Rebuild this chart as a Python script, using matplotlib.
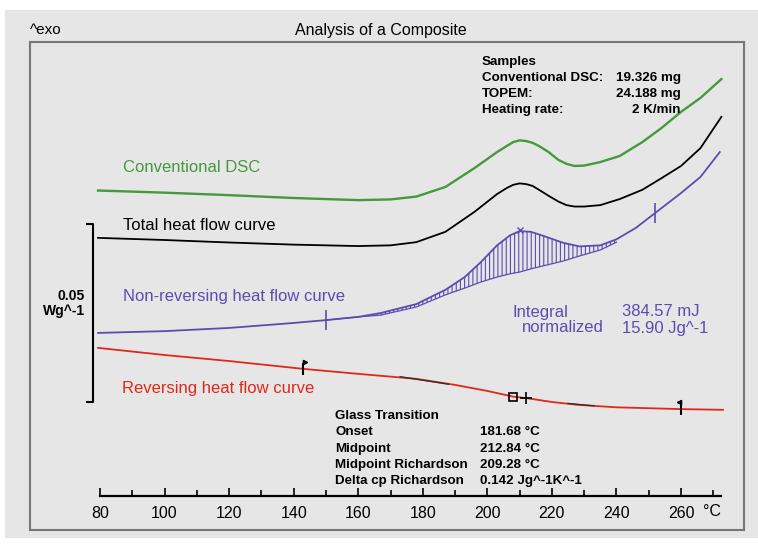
import matplotlib.pyplot as plt
from matplotlib.patches import Rectangle
from matplotlib.ticker import FixedLocator

plt.rcParams['font.family'] = ['Liberation Sans', 'DejaVu Sans']
plt.rcParams['hatch.linewidth'] = 0.8

W, H = 758, 546

# temperature (°C) and heat flow (W/g, curves shifted for display)
t_conv = [79.4, 100, 120, 140, 160, 170, 178, 187, 196, 203, 206, 208, 210, 212,
          214, 216, 219, 222, 224.5, 227, 230, 235, 241, 248, 254, 260, 266, 272.5]
hf_conv = [0.0594, 0.0588, 0.0581, 0.0573, 0.0567, 0.0569, 0.0577, 0.0604, 0.0657,
           0.0702, 0.0719, 0.0730, 0.0735, 0.0733, 0.0728, 0.0719, 0.0702, 0.0680,
           0.0669, 0.0663, 0.0664, 0.0674, 0.0691, 0.0730, 0.0770, 0.0815, 0.0854, 0.0907]

t_total = [79.4, 100, 120, 140, 160, 170, 178, 187, 196, 203, 206, 208, 210, 212,
           214, 216, 219, 222, 224.5, 227, 230, 235, 241, 248, 254, 260, 266, 272.5]
hf_total = [0.0461, 0.0455, 0.0448, 0.0442, 0.0438, 0.0440, 0.0449, 0.0478, 0.0534,
            0.0584, 0.0601, 0.0610, 0.0614, 0.0612, 0.0607, 0.0596, 0.0579, 0.0563,
            0.0553, 0.0549, 0.0549, 0.0553, 0.0570, 0.0596, 0.0629, 0.0663, 0.0713, 0.0801]

t_nonrev = [79.4, 100, 120, 140, 150, 160, 167, 178, 187, 193, 198, 203, 207, 210,
            213.5, 218.5, 223.5, 228.5, 235, 240, 246, 252, 260, 266, 272]
hf_nonrev = [0.0194, 0.0199, 0.0208, 0.0222, 0.0230, 0.0239, 0.0250, 0.0275, 0.0315,
             0.0351, 0.0393, 0.0440, 0.0468, 0.0480, 0.0478, 0.0463, 0.0447, 0.0437,
             0.0440, 0.0457, 0.0489, 0.0531, 0.0587, 0.0632, 0.0702]

# integration baseline under the non-reversing peak
t_base = [150, 160, 167, 178, 187, 193, 198, 203, 207, 210, 213.5, 218.5, 223.5,
          228.5, 235, 240]
hf_base = [0.0230, 0.0239, 0.0244, 0.0267, 0.0301, 0.0320, 0.0337, 0.0351, 0.0360,
           0.0365, 0.0374, 0.0385, 0.0396, 0.0410, 0.0427, 0.0449]
t_limits = [150, 252]
t_peak = 210

t_rev = [79.4, 100, 120, 143, 160, 178, 190, 200, 208, 212, 220, 228, 240, 260, 273]
hf_rev = [0.0152, 0.0132, 0.0115, 0.0093, 0.0079, 0.0065, 0.0048, 0.0031, 0.0015,
          0.0011, 0.0, -0.0008, -0.0015, -0.0020, -0.0022]
t_flags = [143, 260]
t_onset_box = 208
t_mid = 212
tan1_t, tan1_hf = [173, 188], [0.0071, 0.0050]
tan2_t, tan2_hf = [225, 233], [-0.0004, -0.0011]

scale_bar = 0.05

green = '#46993c'
blue = '#5a4db0'
red = '#e0281a'
bg = '#e6e6e6'


def fx(x):
    return x / W


def fy(y):
    return 1 - y / H


fig = plt.figure(figsize=(W / 100, H / 100), dpi=100, facecolor='white')
fig.patches.append(Rectangle((fx(5), fy(537)), fx(753), fy(10) - fy(537),
                             transform=fig.transFigure, color=bg, zorder=-5))

ax = fig.add_axes([fx(30), fy(530), fx(744 - 30), fy(42) - fy(530)])
ax.set_facecolor(bg)
ax.set_xlim(58.32, 279.5)
ax.set_ylim(-0.03596, 0.10112)
ax.set_xticks([])
ax.set_yticks([])
for s in ax.spines.values():
    s.set_color('#777777')
    s.set_linewidth(1.5)

ax.plot(t_conv, hf_conv, color=green, lw=1.7)
ax.plot(t_total, hf_total, color='black', lw=1.3)
ax.plot(t_nonrev, hf_nonrev, color=blue, lw=1.3)

i0 = t_nonrev.index(t_base[0])
i1 = t_nonrev.index(t_base[-1]) + 1
ax.fill_between(t_base, hf_base, hf_nonrev[i0:i1], facecolor='none',
                edgecolor=blue, hatch='||||', linewidth=0)
ax.plot(t_base, hf_base, color=blue, lw=0.9)
for t in t_limits:
    ax.plot(t, hf_nonrev[t_nonrev.index(t)], marker='|', ms=14, mew=1.2, color=blue)
ax.plot(t_peak, hf_nonrev[t_nonrev.index(t_peak)] + 0.0004, marker='x', ms=5,
        mew=1, color=blue)

ax.plot(t_rev, hf_rev, color=red, lw=1.3, zorder=3)
ax.plot(tan1_t, tan1_hf, color='#333333', lw=1.0, zorder=4)
ax.plot(tan2_t, tan2_hf, color='#333333', lw=1.0, zorder=4)
for t, m, dx in zip(t_flags, ['>', '<'], [0.6, -0.6]):
    ax.plot(t, hf_rev[t_rev.index(t)], marker='|', ms=9, mew=1.5, color='black', zorder=5)
    ax.plot(t + dx, hf_rev[t_rev.index(t)] + 0.0019, marker=m, ms=3, color='black',
            zorder=5)
ax.plot(t_onset_box, hf_rev[t_rev.index(t_onset_box)], marker='s', ms=6, mfc='none',
        mec='black', mew=1.2, zorder=5)
ax.plot(t_mid, hf_rev[t_rev.index(t_mid)], marker='+', ms=8, mew=1.2, color='black',
        zorder=5)

# scale bar
ax.plot([76.0, 77.8, 77.8, 76.0], [scale_bar, scale_bar, 0, 0], color='black', lw=1.5)

# temperature axis
axx = fig.add_axes([fx(30), fy(496), fx(744 - 30), 0.001])
axx.set_xlim(ax.get_xlim())
axx.patch.set_visible(False)
axx.set_yticks([])
for side in ['top', 'left', 'right']:
    axx.spines[side].set_visible(False)
axx.spines['bottom'].set_bounds(80, 272.5)
axx.spines['bottom'].set_linewidth(1.6)
axx.set_xticks(range(80, 261, 20))
axx.xaxis.set_minor_locator(FixedLocator(range(90, 271, 20)))
axx.tick_params(axis='x', which='major', direction='in', length=6, width=1.2,
                labelsize=11.5, pad=7)
axx.tick_params(axis='x', which='minor', direction='in', length=4, width=1.2)
fig.text(fx(712), fy(512), '°C', ha='center', va='center', fontsize=11.5)

# texts
fig.text(fx(30), fy(30), '^exo', ha='left', va='center', fontsize=11)
fig.text(fx(381), fy(30), 'Analysis of a Composite', ha='center', va='center',
         fontsize=11.5)

samples = ['Samples', 'Conventional DSC:', 'TOPEM:', 'Heating rate:']
sample_vals = ['', '19.326 mg', '24.188 mg', '2 K/min']
for k, (a, b) in enumerate(zip(samples, sample_vals)):
    y = 62 + 16 * k
    fig.text(fx(482), fy(y), a, ha='left', va='center', fontsize=9.6, weight='bold')
    fig.text(fx(681), fy(y), b, ha='right', va='center', fontsize=9.6, weight='bold')

fig.text(fx(123), fy(167), 'Conventional DSC', color=green, fontsize=12, va='center')
fig.text(fx(123), fy(226), 'Total heat flow curve', color='black', fontsize=12,
         va='center')
fig.text(fx(123), fy(296), 'Non-reversing heat flow curve', color=blue, fontsize=12,
         va='center')
fig.text(fx(122), fy(389), 'Reversing heat flow curve', color=red, fontsize=12,
         va='center')

fig.text(fx(85), fy(296), '0.05', ha='right', va='center', fontsize=10, weight='bold')
fig.text(fx(85), fy(311), 'Wg^-1', ha='right', va='center', fontsize=10, weight='bold')

fig.text(fx(512), fy(312), 'Integral', color=blue, fontsize=12, va='center')
fig.text(fx(604), fy(328), 'normalized', color=blue, fontsize=12, va='center',
         ha='right')
fig.text(fx(622), fy(312), '384.57 mJ', color=blue, fontsize=12, va='center')
fig.text(fx(622), fy(328), '15.90 Jg^-1', color=blue, fontsize=12, va='center')

glass = ['Glass Transition', 'Onset', 'Midpoint', 'Midpoint Richardson',
         'Delta cp Richardson']
glass_vals = ['', '181.68 °C', '212.84 °C', '209.28 °C', '0.142 Jg^-1K^-1']
for k, (a, b) in enumerate(zip(glass, glass_vals)):
    y = 416 + 16.3 * k
    fig.text(fx(335), fy(y), a, ha='left', va='center', fontsize=9.6, weight='bold')
    fig.text(fx(480), fy(y), b, ha='left', va='center', fontsize=9.6, weight='bold')

fig.savefig('out.png', dpi=100, facecolor=fig.get_facecolor())
